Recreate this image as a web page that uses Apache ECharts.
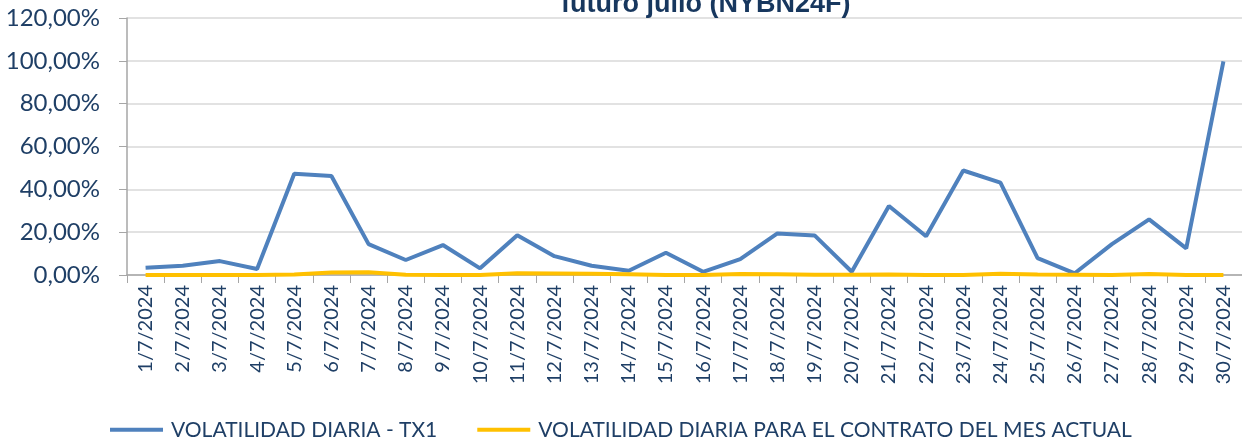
<html>
<head>
    <script src="https://cdn.jsdelivr.net/npm/echarts@6/dist/echarts.min.js"></script>
    <style>
        body { margin: 0; background: #fff; }
    </style>
</head>
<body>
    <div id="main" style="width: 1242px;height:443px;"></div>
    <script>
        // fechas del mes de julio
        var dias = [];
        for (var d = 1; d <= 30; d++) {
            dias.push(d + '/7/2024');
        }
        var yTicks = [0, 20, 40, 60, 80, 100, 120];

        var volTX1 = [3.4, 4.3, 6.5, 2.8, 47.3, 46.2, 14.4, 7.0, 14.0, 3.1,
                      18.6, 8.8, 4.3, 2.0, 10.4, 1.5, 7.4, 19.4, 18.5, 1.5,
                      32.2, 18.1, 48.8, 43.1, 7.9, 0.8, 14.4, 26.0, 12.4, 99.8];
        var volMes = [0, 0, 0, 0, 0.2, 1.2, 1.3, 0.1, 0, 0,
                      0.8, 0.7, 0.6, 0.4, 0, 0, 0.5, 0.3, 0.1, 0.1,
                      0.2, 0, 0, 0.6, 0.2, 0.1, 0, 0.5, 0, 0];

        var nombres = ['VOLATILIDAD DIARIA - TX1', 'VOLATILIDAD DIARIA PARA EL CONTRATO DEL MES ACTUAL'];
        var azul = '#4f81bd', amarillo = '#ffc000', texto = '#1f3f66';

        var myChart = echarts.init(document.getElementById('main'));
        var option = {
            animation: false,
            title: {
                text: 'futuro julio (NYBN24F)',
                left: 556,
                top: -24,
                textStyle: { color: '#17375e', fontSize: 27, fontWeight: 'bold', fontFamily: 'Liberation Sans' }
            },
            legend: {
                top: 409,
                left: 105,
                itemWidth: 53,
                itemHeight: 4,
                itemGap: 40,
                icon: 'rect',
                textStyle: { color: texto, fontSize: 21, fontFamily: 'Lato', padding: [0, 0, 0, 3] },
                data: nombres
            },
            grid: { left: 127, right: 0, top: 17, bottom: 168 },
            xAxis: {
                type: 'category',
                data: dias,
                boundaryGap: true,
                axisLine: { lineStyle: { color: '#a6a6a6', width: 1.5 } },
                axisTick: { show: true, length: 8, lineStyle: { color: '#a6a6a6' } },
                axisLabel: { rotate: 90, interval: 0, color: texto, fontSize: 20, fontFamily: 'Lato', margin: 10 }
            },
            yAxis: {
                type: 'value',
                min: yTicks[0],
                max: yTicks[yTicks.length - 1],
                interval: 20,
                axisLine: { show: true, lineStyle: { color: '#a6a6a6', width: 1.5 } },
                axisTick: { show: true, inside: false, length: 8, lineStyle: { color: '#a6a6a6' } },
                splitLine: { lineStyle: { color: '#d9d9d9', width: 1.5 } },
                axisLabel: {
                    color: texto, fontSize: 24, fontFamily: 'Lato', margin: 27,
                    formatter: function (v) { return v.toFixed(2).replace('.', ',') + '%'; }
                }
            },
            series: [{
                name: nombres[0],
                type: 'line',
                data: volTX1,
                symbol: 'none',
                lineStyle: { color: azul, width: 4 },
                itemStyle: { color: azul }
            }, {
                name: nombres[1],
                type: 'line',
                data: volMes,
                symbol: 'none',
                lineStyle: { color: amarillo, width: 4 },
                itemStyle: { color: amarillo }
            }]
        };
        myChart.setOption(option);
    </script>
</body>
</html>
